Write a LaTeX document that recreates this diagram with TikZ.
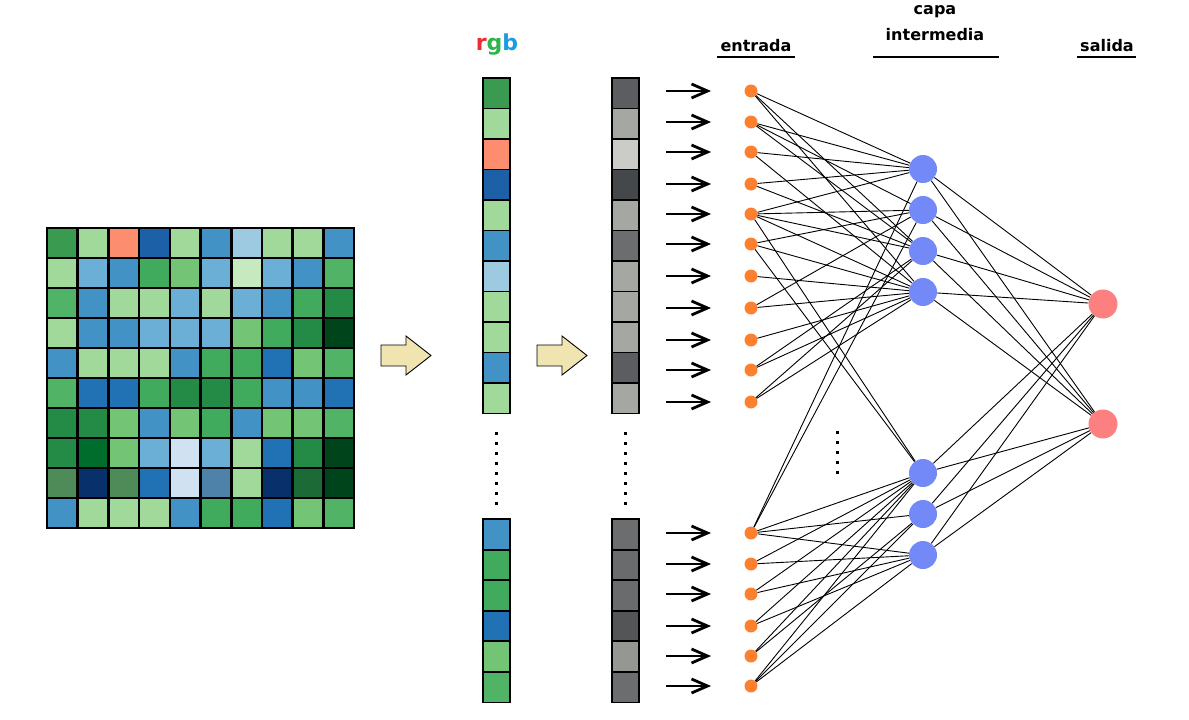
\documentclass[tikz,border=0pt]{standalone}
\usepackage{fontspec}
\setmainfont{DejaVu Sans}
\usetikzlibrary{arrows.meta}
% grid palette
\definecolor{cdg}{HTML}{3A9A50}
\definecolor{clg}{HTML}{A1D99B}
\definecolor{csa}{HTML}{FC8D6E}
\definecolor{cdb}{HTML}{1C60A8}
\definecolor{cbl}{HTML}{4292C6}
\definecolor{clb}{HTML}{9ECAE1}
\definecolor{cmb}{HTML}{6BAED6}
\definecolor{cpg}{HTML}{C7E9C0}
\definecolor{cgr}{HTML}{41AB5D}
\definecolor{cgb}{HTML}{74C476}
\definecolor{cgc}{HTML}{50B365}
\definecolor{cdk}{HTML}{238B45}
\definecolor{cvd}{HTML}{00441B}
\definecolor{cbd}{HTML}{2171B5}
\definecolor{cvt}{HTML}{006D2C}
\definecolor{cpb}{HTML}{D0E1F2}
\definecolor{cmg}{HTML}{4F8A59}
\definecolor{cnv}{HTML}{08306B}
\definecolor{csb}{HTML}{4F82A8}
\definecolor{cdt}{HTML}{1C6B36}
% grays
\definecolor{ga}{HTML}{5B5D60}
\definecolor{gb}{HTML}{A5A7A3}
\definecolor{gc}{HTML}{CBCCC8}
\definecolor{gd}{HTML}{45484A}
\definecolor{ge}{HTML}{6B6D6F}
\definecolor{gf}{HTML}{696B6D}
\definecolor{gg}{HTML}{535557}
\definecolor{gh}{HTML}{959793}
% misc
\definecolor{arrfill}{HTML}{F0E4B0}
\definecolor{inorange}{HTML}{FD8030}
\definecolor{hidblue}{HTML}{7389F7}
\definecolor{outpink}{HTML}{FC8080}
\definecolor{rgbr}{HTML}{EE2B2E}
\definecolor{rgbg}{HTML}{2FB34A}
\definecolor{rgbb}{HTML}{1A9DE0}
\begin{document}
\begin{tikzpicture}[x=1pt,y=-1pt,
  cell/.style={draw=black,line width=2.6pt,minimum width=30.7pt,minimum height=30pt,inner sep=0pt},
  vcell/.style={draw=black,line width=1.8pt,minimum width=27pt,minimum height=30.5pt,inner sep=0pt},
  innode/.style={circle,fill=inorange,minimum size=13pt,inner sep=0pt},
  hidnode/.style={circle,fill=hidblue,minimum size=28pt,inner sep=0pt},
  outnode/.style={circle,fill=outpink,minimum size=29pt,inner sep=0pt},
  conn/.style={line width=0.9pt},
  inarrow/.style={line width=2.8pt,-{Straight Barb[length=16pt,width=14pt]}},
  blockarrow/.style={draw=black,line width=0.9pt,fill=arrfill},
  lbl/.style={font=\fontsize{16}{18}\selectfont\bfseries,inner sep=0pt},
  uline/.style={line width=2.2pt},
  dot/.style={fill=black}
]
\useasboundingbox (0,0) rectangle (1189,720);

% ---------- image grid ----------
\foreach \row [count=\r] in {
  {cdg,clg,csa,cdb,clg,cbl,clb,clg,clg,cbl},
  {clg,cmb,cbl,cgr,cgb,cmb,cpg,cmb,cbl,cgc},
  {cgc,cbl,clg,clg,cmb,clg,cmb,cbl,cgr,cdk},
  {clg,cbl,cbl,cmb,cmb,cmb,cgb,cgr,cdk,cvd},
  {cbl,clg,clg,clg,cbl,cgr,cgr,cbd,cgb,cgc},
  {cgc,cbd,cbd,cgr,cdk,cdk,cgr,cbl,cbl,cbd},
  {cdk,cdk,cgb,cbl,cgb,cgr,cbl,cgb,cgb,cgc},
  {cdk,cvt,cgb,cmb,cpb,cmb,clg,cbd,cdk,cvd},
  {cmg,cnv,cmg,cbd,cpb,csb,clg,cnv,cdt,cvd},
  {cbl,clg,clg,clg,cbl,cgr,cgr,cbd,cgb,cgc}} {
  \foreach \c [count=\k] in \row {
    \node[cell,fill=\c] (g-\r-\k) at ({47+30.7*(\k-0.5)},{228+30*(\r-0.5)}) {};
  }
}

% ---------- block arrows ----------
\draw[blockarrow] (381,345) -- (406,345) -- (406,336) -- (431,355.5) -- (406,375) -- (406,366) -- (381,366) -- cycle;
\draw[blockarrow] (537,345) -- (562,345) -- (562,336) -- (587,355.5) -- (562,375) -- (562,366) -- (537,366) -- cycle;

% ---------- rgb label ----------
\node[inner sep=0pt,font=\fontsize{22}{26}\selectfont\bfseries] (rgb) at (497,45)
  {\textcolor{rgbr}{r}\textcolor{rgbg}{g}\textcolor{rgbb}{b}};

% ---------- rgb column ----------
\foreach \c [count=\k] in {cdg,clg,csa,cdb,clg,cbl,clb,clg,clg,cbl,clg}
  \node[vcell,fill=\c] (ru\k) at (496.5,{78+30.5*(\k-0.5)}) {};
\foreach \c [count=\k] in {cbl,cgr,cgr,cbd,cgb,cgc}
  \node[vcell,fill=\c] (rl\k) at (496.5,{519+30.6*(\k-0.5)}) {};

% ---------- gray column ----------
\foreach \c [count=\k] in {ga,gb,gc,gd,gb,ge,gb,gb,gb,ga,gb}
  \node[vcell,fill=\c] (gu\k) at (625.5,{78+30.5*(\k-0.5)}) {};
\foreach \c [count=\k] in {ge,gf,gf,gg,gh,ge}
  \node[vcell,fill=\c] (gl\k) at (625.5,{519+30.6*(\k-0.5)}) {};

% ---------- vertical dots ----------
\foreach \k in {0,...,7} {
  \fill[dot] ({496-1.5},{433+10*\k-1.5}) rectangle ++(3,3);
  \fill[dot] ({625-1.5},{433+10*\k-1.5}) rectangle ++(3,3);
}
\foreach \k in {0,...,4}
  \fill[dot] ({837-1.5},{432+10*\k-1.5}) rectangle ++(3,3);

% ---------- input nodes ----------
\foreach \y [count=\k] in {91,122,152,184,214,244,276,308,340,370,402} {
  \node[innode] (I\k) at (751,\y) {};
  \coordinate (as\k) at (666,\y);
  \coordinate (ae\k) at (711,\y);
  \draw[inarrow] (as\k) -- (ae\k);
}
\foreach \y [count=\k] in {533,564,594,626,656,686} {
  \node[innode] (J\k) at (751,\y) {};
  \coordinate (bs\k) at (666,\y);
  \coordinate (be\k) at (711,\y);
  \draw[inarrow] (bs\k) -- (be\k);
}

% ---------- hidden and output nodes ----------
\foreach \y [count=\k] in {169,210,251,292}
  \node[hidnode] (H\k) at (923,\y) {};
\foreach \y [count=\k] in {473,514,555}
  \node[hidnode] (L\k) at (923,\y) {};
\node[outnode] (O1) at (1103,304) {};
\node[outnode] (O2) at (1103,424) {};

% ---------- connections input -> hidden ----------
\foreach \a/\b in {I1/H1,I1/H3,I1/H4,
                   I2/H1,I2/H2,I2/H3,
                   I3/H1,I3/H4,
                   I4/H1,I4/H3,
                   I5/H1,I5/H2,I5/H3,I5/H4,I5/L1,
                   I6/H2,I6/H4,I6/L1,
                   I7/H4,
                   I8/H2,I8/H4,
                   I9/H4,
                   I10/H3,I10/H4,
                   I11/H3,I11/H4,
                   J1/H1,J1/H2,J1/L1,J1/L2,J1/L3,
                   J2/L1,J2/L3,
                   J3/L1,J3/L3,
                   J4/L1,J4/L3,
                   J5/L1,J5/L2,
                   J6/L1,J6/L2,J6/L3}
  \draw[conn] (\a) -- (\b);

% ---------- connections hidden -> output ----------
\foreach \a in {H1,H2,H3,H4,L1,L2,L3} {
  \draw[conn] (\a) -- (O1);
  \draw[conn] (\a) -- (O2);
}

% ---------- layer labels ----------
\node[lbl] (tin) at (756,46) {entrada};
\coordinate (uin1) at (717,57);
\coordinate (uin2) at (795,57);
\draw[uline] (uin1) -- (uin2);

\node[lbl] (thid1) at (935,12) {capa};
\node[lbl] (thid2) at (935,35) {intermedia};
\coordinate (uhid1) at (873,57);
\coordinate (uhid2) at (999,57);
\draw[uline] (uhid1) -- (uhid2);

\node[lbl] (tout) at (1107,46) {salida};
\coordinate (uout1) at (1077,57);
\coordinate (uout2) at (1136,57);
\draw[uline] (uout1) -- (uout2);
\end{tikzpicture}
\end{document}
